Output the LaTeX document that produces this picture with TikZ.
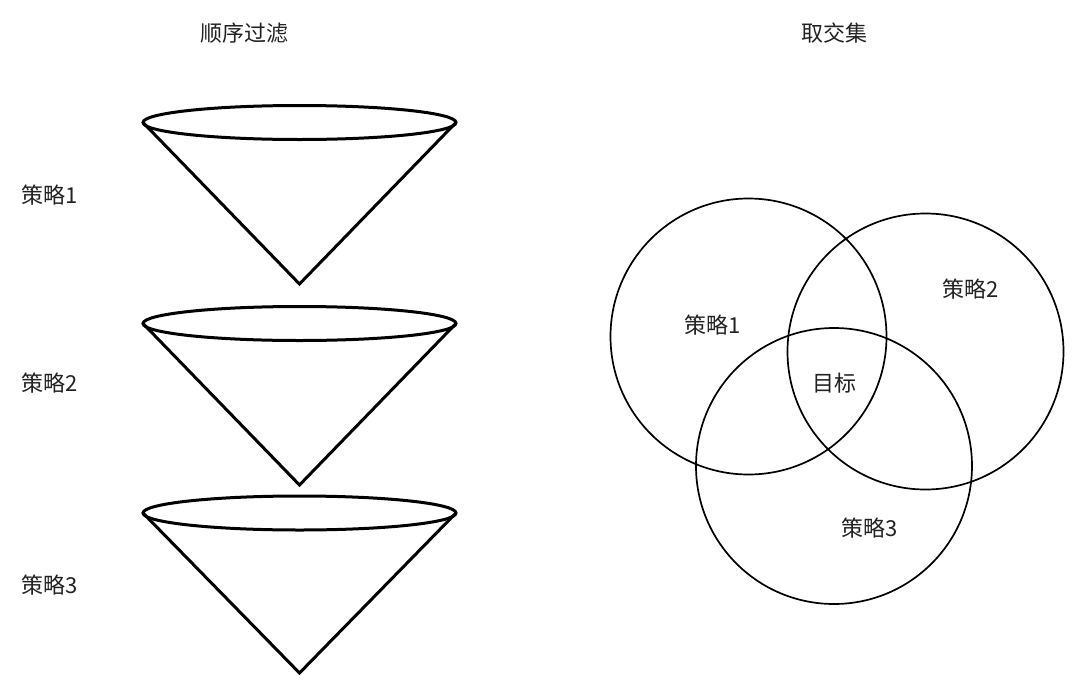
\documentclass[tikz,border=0pt]{standalone}
\usepackage{fontspec}
\newfontfamily\cjk{Noto Sans CJK SC}
\usetikzlibrary{shapes.geometric}
\definecolor{txt}{HTML}{222222}
\tikzset{
  lbl/.style={font=\cjk\fontsize{22}{25}\selectfont, text=txt, inner sep=0pt, anchor=center},
  conestroke/.style={draw=black, line width=3pt, line join=miter},
  venn/.style={draw=black, line width=1.7pt},
}
\begin{document}
\begin{tikzpicture}[x=1pt,y=-1pt]
\useasboundingbox[fill=white] (0,0) rectangle (1080,691);
% titles
\node[lbl] (t1) at (244,33) {顺序过滤};
\node[lbl] (t2) at (834,33) {取交集};
% cones
\foreach \n/\cy/\ay in {1/122.5/284, 2/323.5/485, 3/513/673}{
  \coordinate (L\n) at (143,\cy);
  \coordinate (R\n) at (456,\cy);
  \coordinate (A\n) at (299.5,\ay);
  \draw[conestroke] (L\n) -- (A\n) -- (R\n);
  \draw[conestroke] (299.5,\cy) ellipse [x radius=156.5, y radius=17];
}
\node[lbl] (s1) at (50,195) {策略1};
\node[lbl] (s2) at (50,383) {策略2};
\node[lbl] (s3) at (50,585) {策略3};
% venn
\node[venn, circle, minimum size=276pt, inner sep=0pt] (c1) at (748.5,336.5) {};
\node[venn, circle, minimum size=276pt, inner sep=0pt] (c2) at (925.5,351.5) {};
\node[venn, circle, minimum size=276pt, inner sep=0pt] (c3) at (834,466) {};
\node[lbl] (v1) at (713,325) {策略1};
\node[lbl] (v2) at (971,289) {策略2};
\node[lbl] (v0) at (834,383) {目标};
\node[lbl] (v3) at (870,528) {策略3};
\end{tikzpicture}
\end{document}
